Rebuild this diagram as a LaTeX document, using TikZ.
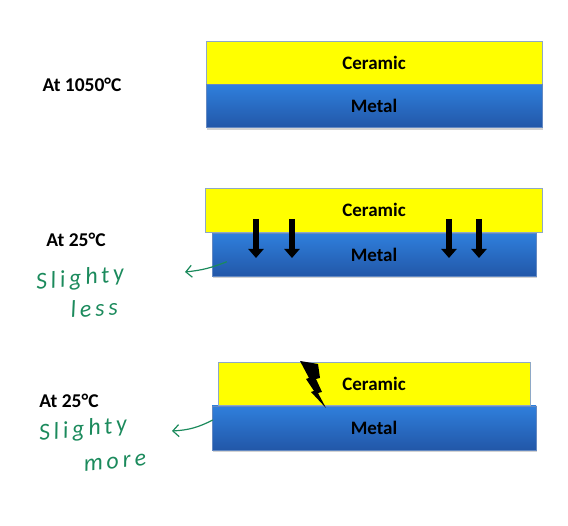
\documentclass[tikz,border=0pt]{standalone}
\usepackage{fontspec}
\setmainfont{Carlito}
\newfontfamily\handfont[LetterSpace=16]{Carlito}
\usetikzlibrary{arrows.meta,positioning,calc,shadows}
\definecolor{cerfill}{HTML}{FFFF00}
\definecolor{cerline}{HTML}{8EA8C6}
\definecolor{mettop}{HTML}{2F7FDC}
\definecolor{metbot}{HTML}{2257A8}
\definecolor{inkgreen}{HTML}{1B8A5C}
\tikzset{
  layer/.style={inner sep=0pt, font=\bfseries\fontsize{19}{21}\selectfont, minimum height=43pt},
  cer/.style={layer, draw=cerline, line width=0.8pt, fill=cerfill},
  met/.style={layer, top color=mettop, bottom color=metbot, draw=metbot!70, line width=0.4pt,
              drop shadow={opacity=0.35, shadow xshift=0.8pt, shadow yshift=-2pt}},
  temp/.style={font=\bfseries\fontsize{19.5}{21}\selectfont},
  sink/.style={-{Triangle[width=15pt, length=9pt]}, line width=6.5pt, color=black},
  hand/.style={font=\handfont\itshape\fontsize{24}{26}\selectfont, color=inkgreen, inner sep=0pt},
  note/.style={-{Straight Barb[width=12pt, length=6pt, line width=1.2pt]}, line width=1.2pt, color=inkgreen},
}

\begin{document}
\begin{tikzpicture}[x=1pt, y=-1pt]
  \useasboundingbox (0,0) rectangle (568,526);
  % 1050 C
  \node[cer, minimum width=336pt] (cer1) at (374,62.5) {Ceramic};
  \node[met, minimum width=336pt, below=0pt of cer1] (met1) {Metal};
  \node[temp] (t1) at (82,85) {At 1050°C};
  % 25 C, ceramic shrinks less
  \node[met, minimum width=324pt] (met2) at (374,255) {Metal};
  \node[cer, minimum width=337pt, minimum height=44pt, above=0pt of met2] (cer2) {\raisebox{3pt}{Ceramic}};
  \foreach \x in {256,292,449,479}
    \draw[sink] (\x,219) -- (\x,258);
  \node[temp] (t2) at (76,240) {At 25°C};
  \node[hand, rotate=6] (less1) at (80,279) {Slighty};
  \node[hand, rotate=4] (less2) at (94,308) {less};
  \coordinate (lesstip) at (185,272);
  \draw[note] ($(met2.south west)+(15,-15)$) to[bend left=8] (lesstip);
  % 25 C, ceramic shrinks more
  \node[met, minimum width=324pt, minimum height=44pt] (met3) at (374,428) {Metal};
  \node[cer, minimum width=312pt, above=0pt of met3] (cer3) {Ceramic};
  \fill[black] (300,361) -- (318,364) -- (320,378) -- (316,379) -- (322,392) -- (318,393)
    -- (326,408) -- (311,392) -- (314,391) -- (306,379) -- (309,378) -- cycle;
  \node[temp] (t3) at (69,401) {At 25°C};
  \node[hand, rotate=6] (more1) at (83,430) {Slighty};
  \node[hand, rotate=6] (more2) at (115,463) {more};
  \coordinate (moretip) at (172,431);
  \draw[note] ($(met3.west)+(1,-8)$) to[bend left=12] (moretip);
\end{tikzpicture}
\end{document}
